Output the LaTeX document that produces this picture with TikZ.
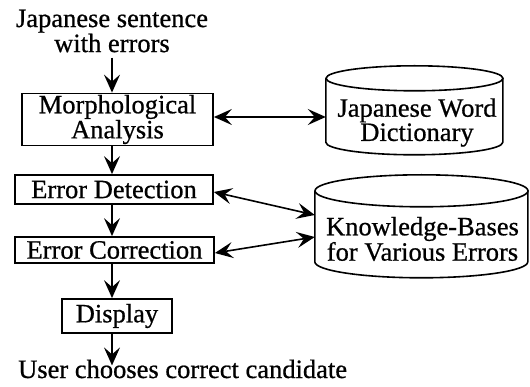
\documentclass[tikz,border=0pt]{standalone}
\usepackage{fontspec}
\setmainfont[FakeBold=0.7]{Liberation Serif}
\usetikzlibrary{arrows.meta,calc}
\begin{document}
\begin{tikzpicture}[x=1pt,y=1pt,
  tip/.tip={Stealth[length=18pt,width=16pt,inset=7pt]},
  stage/.style={draw, line width=1.8pt, inner sep=0pt, align=center,
    font=\fontsize{26.5}{17}\selectfont},
  caption/.style={inner sep=0pt, align=center, font=\fontsize{26.5}{21}\selectfont},
  store/.style={line width=1.6pt},
  flow/.style={line width=1.6pt, -tip},
  link/.style={line width=1.6pt, tip-tip}
]
\useasboundingbox (0,0) rectangle (530,-387);

% processing pipeline
\node[caption] (src) at (112,-31) {Japanese sentence\\with errors};
\node[stage, minimum width=191pt, minimum height=52pt] (morph) at (117.5,-119.5) {Morphological\\Analysis};
\node[stage, minimum width=198pt, minimum height=29pt] (detect) at (114,-189.5) {Error Detection};
\node[stage, minimum width=199pt, minimum height=26pt] (correct) at (114.5,-250) {Error Correction};
\node[stage, minimum width=110pt, minimum height=34pt] (display) at (117,-316) {Display};
\node[caption, anchor=base west] (user) at (18,-378) {User chooses correct candidate};

% databases (cylinder outlines)
\node[inner sep=0pt, minimum width=177pt, minimum height=89pt] (dict) at (414.5,-110.5) {};
\draw[store] (dict.north west) ++(0,-12.5) -- ++(0,-64) arc[start angle=180, end angle=360, x radius=88.5, y radius=12.5] -- ++(0,64);
\draw[store] ($(dict.north)+(0,-12.5)$) ellipse[x radius=88.5, y radius=12.5];
\node[caption, font=\fontsize{26.5}{20}\selectfont] (dicttext) at (417,-122.5) {Japanese Word\\Dictionary};

\node[inner sep=0pt, minimum width=213pt, minimum height=103pt] (kb) at (421.5,-226.5) {};
\draw[store] (kb.north west) ++(0,-16) -- ++(0,-71) arc[start angle=180, end angle=360, x radius=106.5, y radius=16] -- ++(0,71);
\draw[store] ($(kb.north)+(0,-16)$) ellipse[x radius=106.5, y radius=16];
\node[caption, font=\fontsize{26.5}{22}\selectfont] (kbtext) at (422.5,-239) {Knowledge-Bases\\for Various Errors};

% connectors
\draw[flow] ([yshift=-5pt]src.south) -- (morph.north -| src.south);
\draw[flow] (morph.south -| src.south) -- (detect.north -| src.south);
\draw[flow] (detect.south -| src.south) -- (correct.north -| src.south);
\draw[flow] (correct.south -| src.south) -- (display.north -| src.south);
\draw[flow] (display.south -| src.south) -- ([yshift=-6pt]user.north -| src.south);

\draw[link] ([yshift=2.5pt]morph.east) -- ([yshift=-6.5pt]dict.west);
\draw[link] ([yshift=-2.5pt]detect.east) -- ([yshift=11.5pt]kb.west);
\draw[link] ([yshift=-3pt]correct.east) -- ([yshift=-10.5pt]kb.west);
\end{tikzpicture}
\end{document}
